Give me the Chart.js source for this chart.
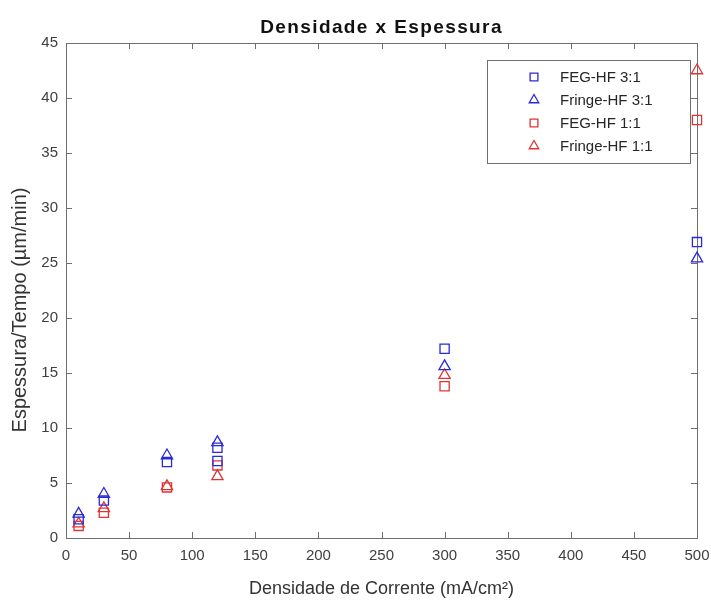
<!DOCTYPE html>
<html>
<head>
<meta charset="utf-8">
<script src="https://cdn.jsdelivr.net/npm/chart.js@4.4.1/dist/chart.umd.min.js"></script>
<style>
    html, body { margin: 0; padding: 0; background: #fff; }
    #wrap { width: 711px; height: 603px; }
</style>
</head>
<body>
<div id="wrap"><canvas id="espessuraChart"></canvas></div>
<script>
// Densidade x Espessura - scatter chart

// FEG-HF 3:1
const fegHf31X = [10, 30, 80, 120, 120, 300, 500];
const fegHf31Y = [1.7, 3.4, 6.9, 8.2, 7.0, 17.2, 26.9];
// Fringe-HF 3:1
const fringeHf31X = [10, 30, 80, 120, 300, 500];
const fringeHf31Y = [2.2, 4.0, 7.5, 8.7, 15.6, 25.4];
// FEG-HF 1:1
const fegHf11X = [10, 30, 80, 120, 300, 500];
const fegHf11Y = [1.1, 2.3, 4.6, 6.6, 13.8, 38.0];
// Fringe-HF 1:1
const fringeHf11X = [10, 30, 80, 120, 300, 500];
const fringeHf11Y = [1.3, 2.7, 4.7, 5.6, 14.8, 42.5];

const seriesLabels = ['FEG-HF 3:1', 'Fringe-HF 3:1', 'FEG-HF 1:1', 'Fringe-HF 1:1'];
const xTicks = [0, 50, 100, 150, 200, 250, 300, 350, 400, 450, 500];
const yTicks = [0, 5, 10, 15, 20, 25, 30, 35, 40, 45];

const blue = '#2a2ad8';
const red = '#e03434';
const axisColor = '#6e6e6e';
const textColor = '#404040';
const fontFamily = "'Liberation Sans', Arial, Helvetica, sans-serif";

function toPoints(xs, ys) {
    return xs.map((x, i) => ({ x: x, y: ys[i] }));
}

function series(label, xs, ys, color, style) {
    return {
        label: label,
        data: toPoints(xs, ys),
        borderColor: color,
        backgroundColor: 'rgba(0,0,0,0)',
        pointStyle: style,
        pointRadius: 6.5,
        pointBorderWidth: 1.3,
        showLine: false,
        clip: false
    };
}

// title centred over the plot area, y label beside the axis
const textPlugin = {
    id: 'plotTexts',
    afterDraw(chart) {
        const ctx = chart.ctx;
        const area = chart.chartArea;
        ctx.save();
        ctx.font = 'bold 19px ' + fontFamily;
        ctx.fillStyle = '#111';
        ctx.textAlign = 'center';
        ctx.textBaseline = 'middle';
        if ('letterSpacing' in ctx) ctx.letterSpacing = '1.4px';
        ctx.fillText('Densidade x Espessura', (area.left + area.right) / 2, 28);
        ctx.restore();

        ctx.save();
        ctx.font = '20px ' + fontFamily;
        ctx.fillStyle = '#333';
        ctx.textAlign = 'center';
        ctx.textBaseline = 'middle';
        ctx.translate(20, 310);
        ctx.rotate(-Math.PI / 2);
        ctx.fillText('Espessura/Tempo (µm/min)', 0, 0);
        ctx.restore();
    }
};

// box around the axes with inward ticks on every side
const framePlugin = {
    id: 'frame',
    beforeDatasetsDraw(chart) {
        const ctx = chart.ctx;
        const a = chart.chartArea;
        const xs = chart.scales.x;
        const ys = chart.scales.y;
        const len = 6;
        ctx.save();
        ctx.strokeStyle = axisColor;
        ctx.lineWidth = 1;
        ctx.strokeRect(Math.round(a.left) + 0.5, Math.round(a.top) + 0.5,
            Math.round(a.right - a.left), Math.round(a.bottom - a.top));
        ctx.beginPath();
        xTicks.forEach(v => {
            const px = Math.round(xs.getPixelForValue(v)) + 0.5;
            ctx.moveTo(px, a.bottom);
            ctx.lineTo(px, a.bottom - len);
            ctx.moveTo(px, a.top);
            ctx.lineTo(px, a.top + len);
        });
        yTicks.forEach(v => {
            const py = Math.round(ys.getPixelForValue(v)) + 0.5;
            ctx.moveTo(a.left, py);
            ctx.lineTo(a.left + len, py);
            ctx.moveTo(a.right, py);
            ctx.lineTo(a.right - len, py);
        });
        ctx.stroke();
        ctx.restore();
    }
};

// legend box in the upper right corner
const legendPlugin = {
    id: 'boxLegend',
    afterDraw(chart) {
        const ctx = chart.ctx;
        const left = 487, top = 60, width = 203, height = 103;
        ctx.save();
        ctx.fillStyle = '#fff';
        ctx.fillRect(left, top, width, height);
        ctx.strokeStyle = axisColor;
        ctx.lineWidth = 1;
        ctx.strokeRect(left + 0.5, top + 0.5, width, height);
        ctx.font = '15px ' + fontFamily;
        ctx.textBaseline = 'middle';
        ctx.textAlign = 'left';
        chart.data.datasets.forEach((ds, i) => {
            const y = top + 17 + i * 23;
            ctx.strokeStyle = ds.borderColor;
            ctx.fillStyle = 'rgba(0,0,0,0)';
            ctx.lineWidth = ds.pointBorderWidth;
            Chart.helpers.drawPoint(ctx, {
                pointStyle: ds.pointStyle,
                radius: 5.5,
                rotation: 0,
                borderWidth: ds.pointBorderWidth
            }, 534, y);
            ctx.fillStyle = '#262626';
            ctx.fillText(ds.label, 560, y + 1);
        });
        ctx.restore();
    }
};

const chartCtx = document.getElementById('espessuraChart');
new Chart(chartCtx, {
    type: 'scatter',
    data: {
        datasets: [
            series(seriesLabels[0], fegHf31X, fegHf31Y, blue, 'rect'),
            series(seriesLabels[1], fringeHf31X, fringeHf31Y, blue, 'triangle'),
            series(seriesLabels[2], fegHf11X, fegHf11Y, red, 'rect'),
            series(seriesLabels[3], fringeHf11X, fringeHf11Y, red, 'triangle')
        ]
    },
    options: {
        animation: false,
        responsive: true,
        maintainAspectRatio: false,
        layout: {
            padding: { left: 0, right: 14, top: 43, bottom: 0 }
        },
        plugins: {
            legend: { display: false },
            tooltip: { enabled: false },
            title: { display: false }
        },
        scales: {
            x: {
                type: 'linear',
                min: 0,
                max: 500,
                afterBuildTicks: s => { s.ticks = xTicks.map(v => ({ value: v })); },
                afterFit: s => {
                    s.height = 65;
                    s.paddingLeft = 0;
                    s.paddingRight = 0;
                },
                ticks: {
                    autoSkip: false,
                    maxRotation: 0,
                    padding: 9,
                    color: textColor,
                    font: { family: fontFamily, size: 15 }
                },
                grid: { display: false, drawTicks: false },
                border: { display: false },
                title: {
                    display: true,
                    text: 'Densidade de Corrente (mA/cm²)',
                    color: '#333',
                    font: { family: fontFamily, size: 18 },
                    padding: { top: 0, bottom: 3 }
                }
            },
            y: {
                type: 'linear',
                min: 0,
                max: 45,
                afterBuildTicks: s => { s.ticks = yTicks.map(v => ({ value: v })); },
                afterFit: s => {
                    s.width = 66;
                    s.paddingTop = 0;
                    s.paddingBottom = 0;
                },
                ticks: {
                    padding: 8,
                    color: textColor,
                    font: { family: fontFamily, size: 15 }
                },
                grid: { display: false, drawTicks: false },
                border: { display: false }
            }
        }
    },
    plugins: [textPlugin, framePlugin, legendPlugin]
});
</script>
</body>
</html>
